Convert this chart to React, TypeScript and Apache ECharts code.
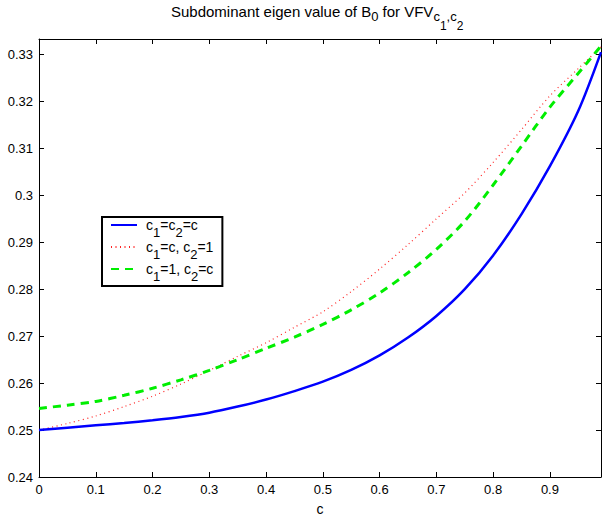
import React, { useEffect, useRef } from 'react';
import * as echarts from 'echarts';

const cValues = [0, 0.05, 0.1, 0.15, 0.2, 0.25, 0.3, 0.35, 0.4, 0.45, 0.5, 0.55, 0.6, 0.65, 0.7, 0.75, 0.8, 0.85, 0.9, 0.95, 0.99];
const blueValues = [0.25, 0.2505, 0.251, 0.2515, 0.2521, 0.2528, 0.2537, 0.255, 0.2565, 0.2583, 0.2603, 0.2628, 0.2659, 0.2697, 0.2743, 0.2800, 0.2872, 0.296, 0.3062, 0.318, 0.3305];
const redValues = [0.25, 0.2514, 0.253, 0.255, 0.2572, 0.2598, 0.2627, 0.2657, 0.2686, 0.2719, 0.2752, 0.2795, 0.2843, 0.2895, 0.295, 0.3005, 0.307, 0.314, 0.3212, 0.327, 0.3316];
const greenValues = [0.2546, 0.2553, 0.2561, 0.2574, 0.2589, 0.2607, 0.2627, 0.265, 0.2674, 0.2698, 0.2725, 0.2756, 0.2792, 0.2835, 0.2885, 0.2945, 0.3022, 0.3105, 0.3188, 0.326, 0.3318];
const seriesNames = ['c1=c2=c', 'c1=c, c2=1', 'c1=1, c2=c'];
const legendRich = [
  '{g|}{t|c}{s|1}{t|=c}{s|2}{t|=c}',
  '{g|}{t|c}{s|1}{t|=c, c}{s|2}{t|=1}',
  '{g|}{t|c}{s|1}{t|=1, c}{s|2}{t|=c}',
];
const xMin = 0;
const xMax = 0.99;
const xStep = 0.1;
const yMin = 0.24;
const yMax = 0.3333;
const yStep = 0.01;

const FONT = "'Liberation Sans', Arial, Helvetica, sans-serif";

export default function App() {
  const ref = useRef<HTMLDivElement>(null);
  useEffect(() => {
    document.body.style.margin = '0';
    if (!ref.current) return;
    const chart = echarts.init(ref.current, null, { renderer: 'svg' });
    const tickFmt = (v: number) => {
      const r = Math.round(v * 1000) / 1000;
      return String(r);
    };
    const axisCommon = {
      axisLine: { show: true, onZero: false, lineStyle: { color: '#000', width: 1 } },
      axisTick: { show: true, inside: true, length: 5, lineStyle: { color: '#000', width: 1 } },
      splitLine: { show: false },
    };
    const mk = (vals: number[]) => cValues.map((c, i) => [c, vals[i]]);
    chart.setOption({
      animation: false,
      backgroundColor: '#fff',
      textStyle: { fontFamily: FONT },
      title: {
        left: 171,
        top: 4,
        padding: 0,
        text: '{t|Subdominant eigen value of B}{s|0}{t| for VFV}{s|c}{ss|1}{s|,c}{ss|2}',
        textStyle: {
          fontFamily: FONT,
          fontWeight: 'normal',
          rich: {
            t: { fontFamily: FONT, fontSize: 15, lineHeight: 16, verticalAlign: 'top', color: '#000' },
            s: { fontFamily: FONT, fontSize: 13, lineHeight: 13, padding: [6, 0, 0, 0], verticalAlign: 'top', color: '#000' },
            ss: { fontFamily: FONT, fontSize: 12, lineHeight: 12, padding: [16, 0, 0, 0], verticalAlign: 'top', color: '#000' },
          },
        },
      },
      grid: { left: 39, right: 1, top: 39, bottom: 35, containLabel: false },
      legend: {
        orient: 'vertical',
        left: 102,
        top: 217,
        padding: [1, 9, 3, 8],
        itemGap: 1,
        itemWidth: 26,
        itemHeight: 14,
        borderColor: '#000',
        borderWidth: 2,
        backgroundColor: '#fff',
        itemStyle: { color: 'rgba(0,0,0,0)', borderColor: 'rgba(0,0,0,0)', borderWidth: 0, opacity: 0 },
        data: seriesNames,
        formatter: (name: string) => legendRich[seriesNames.indexOf(name)],
        textStyle: {
          fontFamily: FONT,
          rich: {
            g: { width: 4, lineHeight: 14, verticalAlign: 'top' },
            t: { fontFamily: FONT, fontSize: 14, lineHeight: 14, verticalAlign: 'top', color: '#000' },
            s: { fontFamily: FONT, fontSize: 13, lineHeight: 12, padding: [8, 0, 0, 0], verticalAlign: 'top', color: '#000' },
          },
        },
      },
      xAxis: [
        {
          type: 'value', min: xMin, max: xMax, interval: xStep, position: 'bottom',
          ...axisCommon,
          name: 'c', nameLocation: 'middle', nameGap: 25,
          nameTextStyle: { fontFamily: FONT, fontSize: 14, color: '#000' },
          axisLabel: { show: true, showMaxLabel: false, margin: 6, fontFamily: FONT, fontSize: 13, color: '#000', formatter: tickFmt },
        },
        {
          type: 'value', min: xMin, max: xMax, interval: xStep, position: 'top',
          ...axisCommon,
          axisLabel: { show: false },
        },
      ],
      yAxis: [
        {
          type: 'value', min: yMin, max: yMax, interval: yStep, position: 'left',
          ...axisCommon,
          axisLabel: { show: true, showMaxLabel: false, margin: 6, fontFamily: FONT, fontSize: 13, color: '#000', formatter: tickFmt },
        },
        {
          type: 'value', min: yMin, max: yMax, interval: yStep, position: 'right',
          ...axisCommon,
          axisLabel: { show: false },
        },
      ],
      series: [
        {
          name: seriesNames[0], type: 'line', data: mk(blueValues), smooth: 0.3, symbol: 'none',
          lineStyle: { color: '#0000ff', width: 2.5, type: 'solid' }, itemStyle: { color: '#0000ff' }, z: 3,
        },
        {
          name: seriesNames[1], type: 'line', data: mk(redValues), smooth: 0.3, symbol: 'none',
          lineStyle: { color: '#ff2020', width: 1.2, type: [1, 3.5] }, itemStyle: { color: '#ff2020' }, z: 2,
        },
        {
          name: seriesNames[2], type: 'line', data: mk(greenValues), smooth: 0.3, symbol: 'none',
          lineStyle: { color: '#00ee00', width: 3, type: [8, 6] }, itemStyle: { color: '#00ee00' }, z: 4,
        },
      ],
    });
    return () => chart.dispose();
  }, []);
  return <div ref={ref} style={{ width: 602, height: 521 }} />;
}
